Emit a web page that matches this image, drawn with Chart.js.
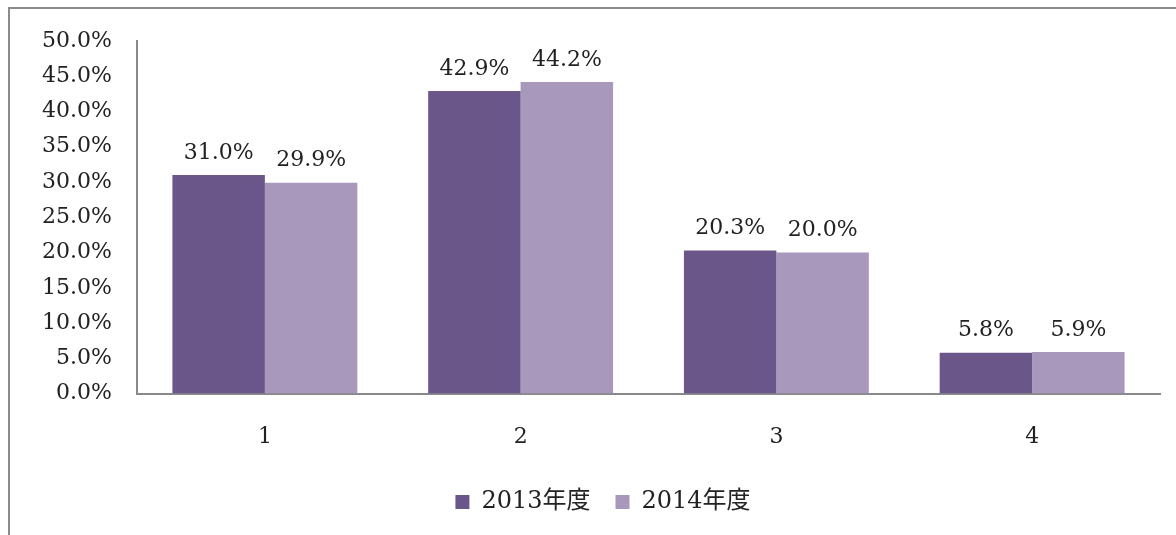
<!DOCTYPE html>
<html>
<head>
<meta charset="utf-8">
<script src="https://cdn.jsdelivr.net/npm/chart.js@4/dist/chart.umd.min.js"></script>
<style>
  html, body { margin: 0; padding: 0; background: #fff; }
  #frame { position: absolute; left: 8px; top: 7px; width: 1200px; height: 560px; border: 2px solid #8c8c8c; }
  #wrap { position: absolute; left: 0; top: 0; width: 1176px; height: 535px; }
</style>
</head>
<body>
<div id="frame"></div>
<div id="wrap"><canvas id="chart"></canvas></div>
<script>
var categories = ['1', '2', '3', '4'];
var values2013 = [31.0, 42.9, 20.3, 5.8];
var values2014 = [29.9, 44.2, 20.0, 5.9];
var seriesNames = ['2013年度', '2014年度'];

var fontFamily = '"DejaVu Serif", "Noto Sans CJK JP", serif';

// value labels above each bar
var barLabels = {
  id: 'barLabels',
  afterDatasetsDraw: function (chart) {
    var ctx = chart.ctx;
    ctx.save();
    ctx.font = '22px ' + fontFamily;
    ctx.fillStyle = '#222';
    ctx.textAlign = 'center';
    ctx.textBaseline = 'middle';
    chart.data.datasets.forEach(function (ds, i) {
      chart.getDatasetMeta(i).data.forEach(function (el, j) {
        ctx.fillText(ds.data[j].toFixed(1) + '%', el.x, el.y - 22);
      });
    });
    ctx.restore();
  }
};

// the legend sits a bit right of the canvas centre in the original
var legendShift = {
  id: 'legendShift',
  afterLayout: function (chart) {
    if (chart.legend) {
      chart.legend.left += 23;
      chart.legend.right += 23;
    }
  }
};

new Chart(document.getElementById('chart'), {
  type: 'bar',
  data: {
    labels: categories,
    datasets: [
      { label: seriesNames[0], data: values2013, backgroundColor: '#6b568a' },
      { label: seriesNames[1], data: values2014, backgroundColor: '#a899bc' }
    ]
  },
  options: {
    responsive: true,
    maintainAspectRatio: false,
    animation: false,
    layout: { padding: { left: 0, right: 16, top: 41, bottom: 11 } },
    datasets: { bar: { categoryPercentage: 0.723, barPercentage: 1.0, borderWidth: 0 } },
    scales: {
      x: {
        afterFit: function (s) { s.height -= 15; },
        grid: { display: false, drawTicks: false },
        border: { color: '#898989', width: 2 },
        ticks: { color: '#222', font: { family: fontFamily, size: 22 }, padding: 30 }
      },
      y: {
        min: 0,
        max: 50,
        afterFit: function (s) { s.width = 137; },
        grid: { display: false, drawTicks: false },
        border: { color: '#898989', width: 2 },
        ticks: {
          stepSize: 5,
          color: '#222',
          padding: 25,
          font: { family: fontFamily, size: 22 },
          callback: function (v) { return v.toFixed(1) + '%'; }
        }
      }
    },
    plugins: {
      legend: {
        position: 'bottom',
        labels: {
          boxWidth: 14,
          boxHeight: 14,
          padding: 25,
          color: '#222',
          font: { family: fontFamily, size: 24 }
        }
      },
      tooltip: { enabled: false }
    }
  },
  plugins: [barLabels, legendShift]
});
</script>
</body>
</html>
